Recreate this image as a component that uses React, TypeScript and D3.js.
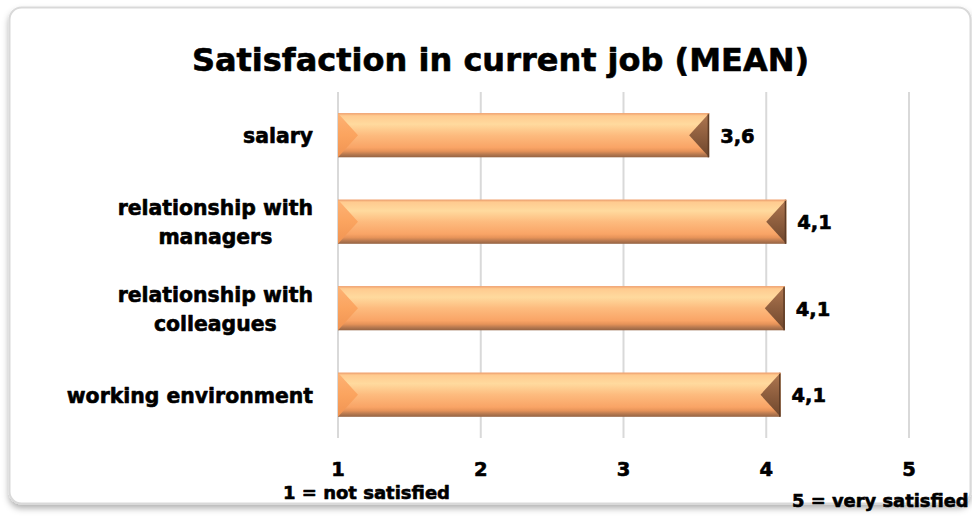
import React, { useEffect, useRef } from "react";
import * as d3 from "d3";

const title = "Satisfaction in current job (MEAN)";
const categories: string[][] = [
  ["salary"],
  ["relationship with", "managers"],
  ["relationship with", "colleagues"],
  ["working environment"],
];
const values: number[] = [3.6, 4.14, 4.13, 4.1];
const ticks: number[] = [1, 2, 3, 4, 5];
const minNote = "1 = not satisfied";
const maxNote = "5 = very satisfied";

const W = 972;
const H = 517;
const FONT = "'DejaVu Sans', sans-serif";

export default function App() {
  const ref = useRef<SVGSVGElement | null>(null);

  useEffect(() => {
    const svg = d3.select(ref.current);
    svg.selectAll("*").remove();

    const defs = svg.append("defs");
    const sh = defs.append("filter").attr("id", "shadow").attr("x", "-5%").attr("y", "-5%").attr("width", "110%").attr("height", "115%");
    sh.append("feDropShadow").attr("dx", 0).attr("dy", 4).attr("stdDeviation", 3).attr("flood-color", "#000").attr("flood-opacity", 0.3);

    const bg = defs.append("linearGradient").attr("id", "barGrad").attr("x1", 0).attr("y1", 0).attr("x2", 0).attr("y2", 1);
    [
      [0, "#F3A670"],
      [0.06, "#FFCB90"],
      [0.25, "#FFDA9E"],
      [0.5, "#FDBB7E"],
      [0.78, "#F9A466"],
      [0.86, "#E69359"],
      [0.93, "#B97A50"],
      [1, "#946343"],
    ].forEach(([o, c]) => bg.append("stop").attr("offset", o as number).attr("stop-color", c as string));

    const lg = defs.append("linearGradient").attr("id", "leftGrad").attr("x1", 0).attr("y1", 0).attr("x2", 0).attr("y2", 1);
    [
      [0, "#FDB274"],
      [0.5, "#FBA45F"],
      [1, "#F09352"],
    ].forEach(([o, c]) => lg.append("stop").attr("offset", o as number).attr("stop-color", c as string));

    const rg = defs.append("linearGradient").attr("id", "rightGrad").attr("x1", 0).attr("y1", 0).attr("x2", 0).attr("y2", 1);
    [
      [0, "#B07750"],
      [0.5, "#8E5E3E"],
      [1, "#6E462C"],
    ].forEach(([o, c]) => rg.append("stop").attr("offset", o as number).attr("stop-color", c as string));

    // frame
    svg
      .append("rect")
      .attr("x", 9.5)
      .attr("y", 7.5)
      .attr("width", 961)
      .attr("height", 496)
      .attr("rx", 12)
      .attr("fill", "#fff")
      .attr("stroke", "#D9D9D9")
      .attr("stroke-width", 2)
      .attr("filter", "url(#shadow)");

    const heavy = (sel: any, size: number) =>
      sel
        .attr("font-family", FONT)
        .attr("font-weight", "bold")
        .attr("font-size", size)
        .attr("fill", "#000")
        .attr("stroke", "#000")
        .attr("stroke-width", 0.6)
        .attr("stroke-linejoin", "round");

    // title
    heavy(
      svg.append("text").attr("x", 500.5).attr("y", 71).attr("text-anchor", "middle"),
      32
    ).text(title);

    const x = d3.scaleLinear().domain([1, 5]).range([338, 909]);
    const y = d3
      .scaleBand<number>()
      .domain(d3.range(categories.length))
      .range([92, 438])
      .paddingInner(0.49)
      .paddingOuter(0.245);

    // gridlines
    svg
      .append("g")
      .selectAll("line")
      .data(ticks)
      .join("line")
      .attr("x1", (d) => x(d))
      .attr("x2", (d) => x(d))
      .attr("y1", 92)
      .attr("y2", 438)
      .attr("stroke", "#D9D9D9")
      .attr("stroke-width", 2);

    // bars
    const bw = y.bandwidth();
    const bars = svg.append("g");
    values.forEach((v, i) => {
      const x0 = x(1);
      const x1 = x(v);
      const y0 = y(i)!;
      const y1 = y0 + bw;
      const ym = y0 + bw / 2;
      const bev = 20;
      const g = bars.append("g");
      g.append("rect").attr("x", x0).attr("y", y0).attr("width", x1 - x0).attr("height", bw).attr("fill", "url(#barGrad)");
      g.append("polygon")
        .attr("points", [[x0, y0], [x0 + bev, ym], [x0, y1]].map((p) => p.join(",")).join(" "))
        .attr("fill", "url(#leftGrad)");
      g.append("polygon")
        .attr("points", [[x1, y0], [x1 - bev, ym], [x1, y1]].map((p) => p.join(",")).join(" "))
        .attr("fill", "url(#rightGrad)");
      g.append("line").attr("x1", x1 - 0.75).attr("x2", x1 - 0.75).attr("y1", y0).attr("y2", y1).attr("stroke", "#5E3C26").attr("stroke-width", 1.5);
      g.append("line").attr("x1", x0).attr("x2", x1).attr("y1", y0 + 0.5).attr("y2", y0 + 0.5).attr("stroke", "#F0A878").attr("stroke-width", 1);

      // value label
      heavy(svg.append("text").attr("x", x1 + 11).attr("y", ym + 7.5), 19.5).text(
        d3.format(".1f")(v).replace(".", ",")
      );
    });

    // category labels
    const catFont = 20.4;
    const lineH = 29;
    categories.forEach((lines, i) => {
      const ym = y(i)! + bw / 2;
      const tmp = heavy(svg.append("g"), catFont);
      const texts = lines.map((l) => tmp.append("text").text(l));
      const widths = texts.map((t) => (t.node() as SVGTextElement).getComputedTextLength());
      const maxW = Math.max(...widths);
      const cx = 313 - maxW / 2;
      const base = ym + 8 - ((lines.length - 1) * lineH) / 2;
      texts.forEach((t, k) => {
        t.attr("x", cx).attr("y", base + k * lineH).attr("text-anchor", "middle");
      });
    });

    // tick labels
    heavy(svg.append("g"), 19.5)
      .selectAll("text")
      .data(ticks)
      .join("text")
      .attr("x", (d: number) => x(d))
      .attr("y", 476)
      .attr("text-anchor", "middle")
      .text((d: number) => String(d));

    heavy(svg.append("text").attr("x", 283).attr("y", 499), 18).text(minNote);
    heavy(svg.append("text").attr("x", 792).attr("y", 507), 17.9).text(maxNote);
  }, []);

  return (
    <svg
      ref={ref}
      width={W}
      height={H}
      style={{ position: "absolute", left: 0, top: 0, display: "block" }}
    />
  );
}
